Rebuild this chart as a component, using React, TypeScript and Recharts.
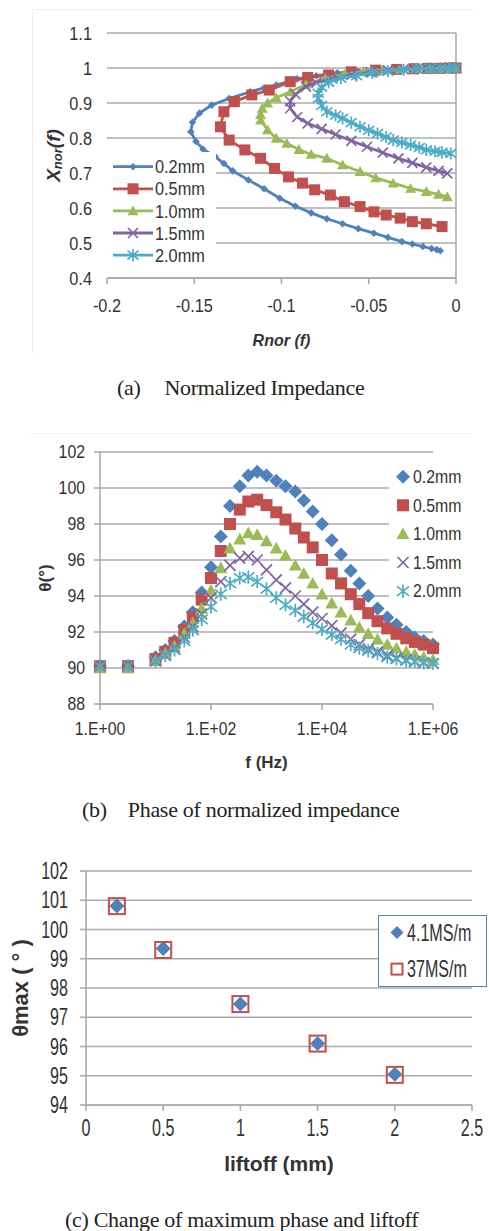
import React from 'react';
import {
  ScatterChart,
  Scatter,
  XAxis,
  YAxis,
  CartesianGrid,
  ReferenceLine,
  Legend,
} from 'recharts';

const SANS = "'Liberation Sans', Arial, sans-serif";
const SERIF = "'Liberation Serif', 'Times New Roman', serif";
const GRID = '#ababab';
const INK = '#333333';

const liftoffLabels = ['0.2mm', '0.5mm', '1.0mm', '1.5mm', '2.0mm'];
const liftoffColors = ['#4f81bd', '#c0504d', '#9bbb59', '#8064a2', '#4bacc6'];
const markerKinds = ['diamond', 'square', 'triangle', 'cross', 'star'];

// (a) normalized impedance, [Rnor, Xnor] from low to high frequency
const imp02 = [
  [0, 1.0], [-0.003, 1.0], [-0.007, 1.0], [-0.012, 0.999], [-0.018, 0.998], [-0.026, 0.997],
  [-0.035, 0.995], [-0.045, 0.993], [-0.056, 0.99], [-0.068, 0.986], [-0.08, 0.978], [-0.091, 0.969],
  [-0.103, 0.951], [-0.11, 0.943], [-0.118, 0.932], [-0.13, 0.913], [-0.14, 0.894], [-0.147, 0.871],
  [-0.151, 0.845], [-0.152, 0.818], [-0.149, 0.79], [-0.145, 0.768], [-0.138, 0.747], [-0.133, 0.727],
  [-0.128, 0.706], [-0.119, 0.68], [-0.11, 0.655], [-0.101, 0.628], [-0.092, 0.605], [-0.083, 0.586],
  [-0.074, 0.569], [-0.065, 0.555], [-0.056, 0.541], [-0.047, 0.528], [-0.039, 0.516], [-0.031, 0.504],
  [-0.025, 0.497], [-0.019, 0.49], [-0.014, 0.484], [-0.011, 0.481], [-0.009, 0.478],
];
const imp05 = [
  [0, 1.0], [-0.004, 1.0], [-0.009, 0.999], [-0.016, 0.999], [-0.024, 0.998], [-0.034, 0.996],
  [-0.046, 0.994], [-0.06, 0.989], [-0.073, 0.98], [-0.085, 0.973], [-0.095, 0.961], [-0.107, 0.937],
  [-0.117, 0.923], [-0.127, 0.904], [-0.133, 0.875], [-0.135, 0.832], [-0.13, 0.794], [-0.121, 0.766],
  [-0.112, 0.742], [-0.104, 0.713], [-0.096, 0.689], [-0.088, 0.671], [-0.081, 0.652], [-0.072, 0.637],
  [-0.064, 0.618], [-0.055, 0.604], [-0.047, 0.589], [-0.04, 0.58], [-0.032, 0.571], [-0.025, 0.561],
  [-0.017, 0.555], [-0.008, 0.547],
];
const imp10 = [
  [0, 1.0], [-0.004, 1.0], [-0.009, 0.999], [-0.015, 0.999], [-0.023, 0.998], [-0.032, 0.996],
  [-0.042, 0.994], [-0.053, 0.99], [-0.064, 0.982], [-0.075, 0.97], [-0.086, 0.953], [-0.095, 0.932],
  [-0.103, 0.915], [-0.108, 0.9], [-0.111, 0.885], [-0.112, 0.867], [-0.112, 0.851], [-0.108, 0.823],
  [-0.103, 0.799], [-0.097, 0.785], [-0.09, 0.767], [-0.083, 0.753], [-0.074, 0.742], [-0.065, 0.723],
  [-0.055, 0.704], [-0.046, 0.686], [-0.036, 0.671], [-0.026, 0.656], [-0.017, 0.647], [-0.01, 0.639],
  [-0.005, 0.632],
];
const imp15 = [
  [0, 1.0], [-0.004, 1.0], [-0.009, 1.0], [-0.015, 0.999], [-0.022, 0.998], [-0.03, 0.996],
  [-0.039, 0.993], [-0.049, 0.988], [-0.06, 0.98], [-0.071, 0.97], [-0.08, 0.958], [-0.086, 0.947],
  [-0.092, 0.925], [-0.095, 0.905], [-0.095, 0.885], [-0.091, 0.86], [-0.085, 0.842], [-0.077, 0.826],
  [-0.069, 0.81], [-0.06, 0.792], [-0.051, 0.775], [-0.042, 0.758], [-0.033, 0.742], [-0.025, 0.729],
  [-0.017, 0.716], [-0.01, 0.706], [-0.005, 0.699],
];
const imp20 = [
  [0, 1.0], [-0.004, 1.0], [-0.009, 1.0], [-0.015, 0.999], [-0.022, 0.998], [-0.03, 0.995],
  [-0.039, 0.991], [-0.048, 0.986], [-0.057, 0.978], [-0.066, 0.971], [-0.073, 0.959], [-0.077, 0.945],
  [-0.079, 0.928], [-0.079, 0.913], [-0.077, 0.893], [-0.074, 0.875], [-0.069, 0.865], [-0.065, 0.856],
  [-0.06, 0.844], [-0.055, 0.832], [-0.05, 0.822], [-0.045, 0.813], [-0.04, 0.803], [-0.036, 0.794],
  [-0.031, 0.787], [-0.026, 0.78], [-0.021, 0.773], [-0.017, 0.766], [-0.012, 0.762], [-0.008, 0.759],
  [-0.003, 0.756],
];
const rTicks = [-0.2, -0.15, -0.1, -0.05, 0];
const xnTicks = [0.4, 0.5, 0.6, 0.7, 0.8, 0.9, 1, 1.1];

// (b) phase of normalized impedance (deg) vs frequency (Hz)
const freqHz = [
  1, 3.2, 10, 15, 22, 33, 47, 68, 100, 150, 220, 330, 470, 680, 1000, 1500, 2200, 3300, 4700, 6800,
  10000, 15000, 22000, 33000, 47000, 68000, 100000, 150000, 220000, 330000, 470000, 680000, 1000000,
];
const phase02 = [
  90.1, 90.1, 90.6, 91.0, 91.5, 92.3, 93.1, 94.2, 95.6, 97.3, 99.0, 100.1, 100.7, 100.9, 100.7, 100.4,
  100.1, 99.8, 99.3, 98.7, 98.0, 97.1, 96.3, 95.4, 94.7, 94.0, 93.3, 92.8, 92.4, 92.0, 91.7, 91.5, 91.3,
];
const phase05 = [
  90.1, 90.1, 90.5, 90.9, 91.4, 92.1, 92.8, 93.8, 95.0, 96.5, 98.0, 98.8, 99.25, 99.35, 99.05, 98.65,
  98.25, 97.75, 97.25, 96.7, 96.0, 95.25, 94.7, 94.1, 93.55, 93.05, 92.6, 92.2, 91.9, 91.65, 91.45, 91.3, 91.1,
];
const phase10 = [
  90.0, 90.0, 90.4, 90.8, 91.2, 91.9, 92.5, 93.3, 94.3, 95.55, 96.65, 97.15, 97.5, 97.4, 97.05, 96.65,
  96.25, 95.7, 95.25, 94.7, 94.1, 93.6, 93.1, 92.65, 92.25, 91.9, 91.6, 91.3, 91.1, 90.9, 90.75, 90.6, 90.45,
];
const phase15 = [
  90.1, 90.1, 90.4, 90.7, 91.1, 91.7, 92.3, 93.0, 93.9, 94.8, 95.7, 96.1, 96.2, 96.0, 95.45, 94.9,
  94.45, 94.0, 93.55, 93.1, 92.75, 92.35, 91.95, 91.6, 91.3, 91.05, 90.9, 90.7, 90.55, 90.45, 90.35, 90.3, 90.25,
];
const phase20 = [
  90.1, 90.1, 90.4, 90.7, 91.0, 91.5, 92.1, 92.7, 93.4, 94.1, 94.7, 95.0, 95.05, 94.8, 94.4, 93.9,
  93.5, 93.2, 92.85, 92.5, 92.15, 91.85, 91.6, 91.3, 91.1, 90.95, 90.8, 90.6, 90.5, 90.4, 90.35, 90.3, 90.25,
];
const fTicks = [1, 100, 10000, 1000000];
const phaseTicks = [88, 90, 92, 94, 96, 98, 100, 102];

// (c) maximum phase vs liftoff
const liftoffMm = [0.2, 0.5, 1.0, 1.5, 2.0];
const thetaMax41 = [100.8, 99.35, 97.45, 96.1, 95.05];
const thetaMax37 = [100.8, 99.3, 97.45, 96.1, 95.03];
const condLabels = ['4.1MS/m', '37MS/m'];
const liftTicks = [0, 0.5, 1, 1.5, 2, 2.5];
const thetaTicks = [94, 95, 96, 97, 98, 99, 100, 101, 102];

function Marker({ cx, cy, kind, r, color }: any) {
  switch (kind) {
    case 'diamond':
      return <path d={`M${cx},${cy - r}L${cx + r},${cy}L${cx},${cy + r}L${cx - r},${cy}Z`} fill={color} />;
    case 'square':
      return <rect x={cx - r} y={cy - r} width={2 * r} height={2 * r} fill={color} />;
    case 'triangle':
      return <path d={`M${cx},${cy - r}L${cx + r},${cy + r * 0.8}L${cx - r},${cy + r * 0.8}Z`} fill={color} />;
    case 'cross':
      return (
        <path d={`M${cx - r},${cy - r}L${cx + r},${cy + r}M${cx + r},${cy - r}L${cx - r},${cy + r}`}
          stroke={color} strokeWidth={1.7} fill="none" />
      );
    case 'star':
      return (
        <path
          d={`M${cx - r},${cy - r * 0.8}L${cx + r},${cy + r * 0.8}M${cx + r},${cy - r * 0.8}L${cx - r},${cy + r * 0.8}M${cx},${cy - r * 1.1}L${cx},${cy + r * 1.1}`}
          stroke={color} strokeWidth={1.7} fill="none" />
      );
    case 'hollow':
      return <rect x={cx - r} y={cy - r} width={2 * r} height={2 * r} fill="none" stroke={color} strokeWidth={2} />;
    default:
      return null;
  }
}

// tick text squeezed sideways like the narrow font of the source
function SqueezedTick({ x, y, payload, textAnchor, size, squeeze, format }: any) {
  return (
    <g transform={`translate(${x},${y})`}>
      <text transform={`scale(${squeeze},1)`} textAnchor={textAnchor} dy="0.35em"
        fontSize={size} fontFamily={SANS} fill={INK}>
        {format ? format(payload.value) : String(payload.value)}
      </text>
    </g>
  );
}

function AxisTitle({ viewBox, vertical, dx = 0, dy = 0, size, italic, children }: any) {
  if (!viewBox) return null;
  const { x, y, width, height } = viewBox;
  const cx = vertical ? x + dx : x + width / 2 + dx;
  const cy = vertical ? y + height / 2 + dy : y + dy;
  return (
    <text x={cx} y={cy} transform={vertical ? `rotate(-90 ${cx} ${cy})` : undefined}
      textAnchor="middle" dominantBaseline="central" fontWeight="bold"
      fontStyle={italic ? 'italic' : 'normal'} fontSize={size} fontFamily={SANS} fill={INK}>
      {children}
    </text>
  );
}

const fmtExp = (v: number) => `1.E+${String(Math.round(Math.log10(v))).padStart(2, '0')}`;

function ImpedanceChart() {
  const series = [imp02, imp05, imp10, imp15, imp20];
  const sizes = [3.8, 5.5, 5.5, 5, 5.5];
  return (
    <ScatterChart width={489} height={360} margin={{ top: 33, right: 33, bottom: 81, left: 106 }}>
      <CartesianGrid vertical={false} stroke={GRID} strokeWidth={1.6} />
      <XAxis type="number" dataKey="r" domain={[-0.2, 0]} ticks={rTicks} interval={0} height={1}
        axisLine={{ stroke: GRID, strokeWidth: 1.6 }} tickLine={{ stroke: GRID, strokeWidth: 1.6 }}
        tickSize={6} tickMargin={21} tick={<SqueezedTick size={19} squeeze={0.86} />}
        label={<AxisTitle dy={62} size={16} italic>Rnor (f)</AxisTitle>} />
      <YAxis type="number" dataKey="x" domain={[0.4, 1.1]} ticks={xnTicks} interval={0} width={1}
        axisLine={false} tickLine={false} tickSize={0} tickMargin={15}
        tick={<SqueezedTick size={19} squeeze={0.86} />}
        label={
          <AxisTitle vertical dx={-53} size={19} italic>
            X<tspan fontSize={13} dy={4}>nor</tspan><tspan dy={-4}>(f)</tspan>
          </AxisTitle>
        } />
      <ReferenceLine x={0} stroke={GRID} strokeWidth={1.6} />
      {series.map((pts, i) => (
        <Scatter key={liftoffLabels[i]} name={liftoffLabels[i]} data={pts.map(([r, x]) => ({ r, x }))}
          line={{ stroke: liftoffColors[i], strokeWidth: 2.8 }} lineType="joint"
          shape={(p: any) => <Marker cx={p.cx} cy={p.cy} kind={markerKinds[i]} r={sizes[i]} color={liftoffColors[i]} />}
          isAnimationActive={false} />
      ))}
      <Legend layout="vertical" align="center" verticalAlign="middle"
        wrapperStyle={{ left: 107, top: 152, width: 109, height: 118 }}
        content={() => (
          <svg width={109} height={118} style={{ background: '#fff', display: 'block' }}>
            {liftoffLabels.map((lab, i) => {
              const y = 14.7 + i * 22.1;
              return (
                <g key={lab}>
                  <line x1={6} x2={46} y1={y} y2={y} stroke={liftoffColors[i]} strokeWidth={2.8} />
                  <Marker cx={26} cy={y} kind={markerKinds[i]} r={sizes[i]} color={liftoffColors[i]} />
                  <g transform={`translate(48,${y})`}>
                    <text transform="scale(0.86,1)" dy="0.35em" fontSize={19} fontFamily={SANS} fill={INK}>{lab}</text>
                  </g>
                </g>
              );
            })}
          </svg>
        )} />
    </ScatterChart>
  );
}

function PhaseChart() {
  const series = [phase02, phase05, phase10, phase15, phase20];
  const sizes = [7, 6, 6.5, 5.5, 6];
  return (
    <ScatterChart width={489} height={360} margin={{ top: 32, right: 56, bottom: 75, left: 99 }}>
      <CartesianGrid vertical={false} stroke={GRID} strokeWidth={1.6} />
      <XAxis type="number" dataKey="f" scale="log" domain={[1, 1000000]} ticks={fTicks} interval={0} height={1}
        axisLine={{ stroke: GRID, strokeWidth: 1.6 }} tickLine={{ stroke: GRID, strokeWidth: 1.6 }}
        tickSize={6} tickMargin={19} tick={<SqueezedTick size={18} squeeze={0.88} format={fmtExp} />}
        label={<AxisTitle dy={58} size={17}>f (Hz)</AxisTitle>} />
      <YAxis type="number" dataKey="th" domain={[88, 102]} ticks={phaseTicks} interval={0} width={1}
        axisLine={{ stroke: GRID, strokeWidth: 1.6 }} tickLine={{ stroke: GRID, strokeWidth: 1.6 }}
        tickSize={6} tickMargin={9} tick={<SqueezedTick size={18} squeeze={0.88} />}
        label={<AxisTitle vertical dx={-54} size={17}>θ(°)</AxisTitle>} />
      {series.map((vals, i) => (
        <Scatter key={liftoffLabels[i]} name={liftoffLabels[i]} data={freqHz.map((f, k) => ({ f, th: vals[k] }))}
          shape={(p: any) => <Marker cx={p.cx} cy={p.cy} kind={markerKinds[i]} r={sizes[i]} color={liftoffColors[i]} />}
          isAnimationActive={false} />
      ))}
      <Legend layout="vertical" align="center" verticalAlign="middle"
        wrapperStyle={{ left: 389, top: 40, width: 84, height: 150 }}
        content={() => (
          <svg width={84} height={150} style={{ background: '#fff', display: 'block' }}>
            {liftoffLabels.map((lab, i) => {
              const y = 16.7 + i * 28.6;
              return (
                <g key={lab}>
                  <Marker cx={14} cy={y} kind={markerKinds[i]} r={sizes[i]} color={liftoffColors[i]} />
                  <g transform={`translate(24,${y})`}>
                    <text transform="scale(0.88,1)" dy="0.35em" fontSize={18} fontFamily={SANS} fill={INK}>{lab}</text>
                  </g>
                </g>
              );
            })}
          </svg>
        )} />
    </ScatterChart>
  );
}

function MaxPhaseChart() {
  const condColors = ['#4f81bd', '#c0504d'];
  const condKinds = ['diamond', 'hollow'];
  return (
    <ScatterChart width={489} height={360} margin={{ top: 31, right: 17, bottom: 94, left: 85 }}>
      <CartesianGrid vertical={false} stroke={GRID} strokeWidth={1.6} />
      <XAxis type="number" dataKey="d" domain={[0, 2.5]} ticks={liftTicks} interval={0} height={1}
        axisLine={{ stroke: GRID, strokeWidth: 1.6 }} tickLine={{ stroke: GRID, strokeWidth: 1.6 }}
        tickSize={6} tickMargin={17} tick={<SqueezedTick size={23} squeeze={0.7} />}
        label={<AxisTitle dy={58} size={21}>liftoff (mm)</AxisTitle>} />
      <YAxis type="number" dataKey="th" domain={[94, 102]} ticks={thetaTicks} interval={0} width={1}
        axisLine={{ stroke: GRID, strokeWidth: 1.6 }} tickLine={{ stroke: GRID, strokeWidth: 1.6 }}
        tickSize={6} tickMargin={12} tick={<SqueezedTick size={23} squeeze={0.7} />}
        label={<AxisTitle vertical dx={-65} size={22}>θmax ( ° )</AxisTitle>} />
      <Scatter name={condLabels[0]} data={liftoffMm.map((d, k) => ({ d, th: thetaMax41[k] }))}
        shape={(p: any) => <Marker cx={p.cx} cy={p.cy} kind="diamond" r={7.5} color={condColors[0]} />}
        isAnimationActive={false} />
      <Scatter name={condLabels[1]} data={liftoffMm.map((d, k) => ({ d, th: thetaMax37[k] }))}
        shape={(p: any) => <Marker cx={p.cx} cy={p.cy} kind="hollow" r={8} color={condColors[1]} />}
        isAnimationActive={false} />
      <Legend layout="vertical" align="center" verticalAlign="middle"
        wrapperStyle={{ left: 378, top: 75, width: 109, height: 72 }}
        content={() => (
          <div style={{ width: 109, height: 72, boxSizing: 'border-box', border: '1.5px solid #4f81bd', background: '#fff' }}>
            <svg width={106} height={69} style={{ display: 'block' }}>
              {condLabels.map((lab, i) => {
                const y = 16.5 + i * 36.6;
                return (
                  <g key={lab}>
                    <Marker cx={18} cy={y} kind={condKinds[i]} r={i === 0 ? 6.5 : 5.5} color={condColors[i]} />
                    <g transform={`translate(28,${y})`}>
                      <text transform="scale(0.7,1)" dy="0.35em" fontSize={23} fontFamily={SANS} fill={INK}>{lab}</text>
                    </g>
                  </g>
                );
              })}
            </svg>
          </div>
        )} />
    </ScatterChart>
  );
}

function Caption({ top, left, tag, gap, children }: any) {
  return (
    <div style={{
      position: 'absolute', top: top - 13, left, lineHeight: '26px', fontSize: 22,
      fontFamily: SERIF, color: '#222', whiteSpace: 'nowrap', letterSpacing: -0.3,
    }}>
      {tag && <span style={{ marginRight: gap }}>{tag}</span>}
      {children}
    </div>
  );
}

export default function App() {
  return (
    <div style={{ position: 'absolute', left: 0, top: 0, width: 489, height: 1231, background: '#fff', overflow: 'hidden' }}>
      <div style={{ position: 'absolute', left: 32, top: 9, width: 441, height: 343, borderLeft: '1px solid #eeeeee', borderTop: '1px solid #eeeeee' }} />
      <div style={{ position: 'absolute', left: 30, top: 433, width: 442, borderTop: '1px solid #f2f2f2' }} />
      <div style={{ position: 'absolute', left: 0, top: 0 }}>
        <ImpedanceChart />
      </div>
      <Caption top={388} left={117} tag="(a)" gap={24}>Normalized Impedance</Caption>
      <div style={{ position: 'absolute', left: 0, top: 420 }}>
        <PhaseChart />
      </div>
      <Caption top={810} left={82} tag="(b)" gap={21}>Phase of normalized impedance</Caption>
      <div style={{ position: 'absolute', left: 0, top: 840 }}>
        <MaxPhaseChart />
      </div>
      <Caption top={1220} left={65}>(c) Change of maximum phase and liftoff</Caption>
    </div>
  );
}
